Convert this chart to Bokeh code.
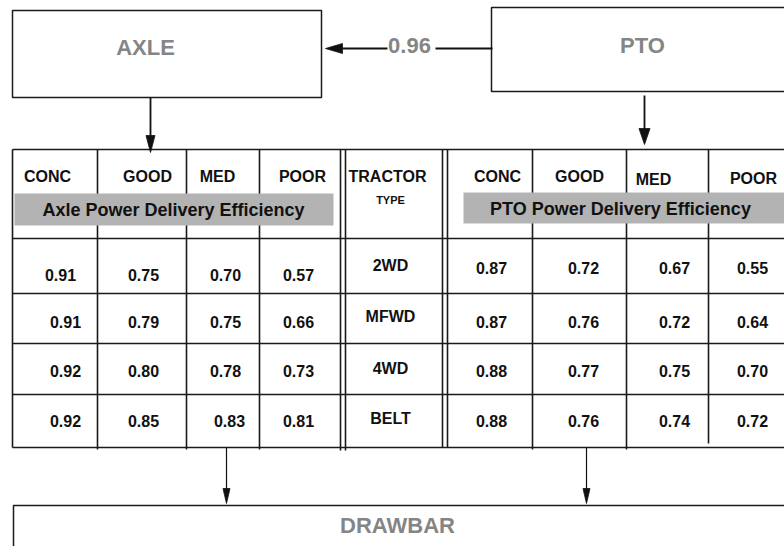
from bokeh.plotting import figure
from bokeh.models import Range1d, ColumnDataSource
from bokeh.core.properties import value
from bokeh.embed import file_html
from bokeh.resources import INLINE

# ---------------- data ----------------
soil_conditions = ["CONC", "GOOD", "MED", "POOR"]
tractor_types = ["2WD", "MFWD", "4WD", "BELT"]
axle_eff = [
    [0.91, 0.75, 0.70, 0.57],
    [0.91, 0.79, 0.75, 0.66],
    [0.92, 0.80, 0.78, 0.73],
    [0.92, 0.85, 0.83, 0.81],
]
pto_eff = [
    [0.87, 0.72, 0.67, 0.55],
    [0.87, 0.76, 0.72, 0.64],
    [0.88, 0.77, 0.75, 0.70],
    [0.88, 0.76, 0.74, 0.72],
]
pto_to_axle = 0.96
axle_title = "Axle Power Delivery Efficiency"
pto_title = "PTO Power Delivery Efficiency"

# ---------------- layout (reference pixel coordinates) ----------------
FONT = value("Liberation Sans")
GRAY_TXT = "#858585"
BAND = "#b3b3b3"
LINE = "#1a1a1a"

W, H = 784, 546
p = figure(width=W, height=H, x_range=Range1d(0, W), y_range=Range1d(H, 0),
           output_backend="svg", toolbar_location=None, min_border=0,
           x_axis_location=None, y_axis_location=None)
p.xgrid.grid_line_color = None
p.ygrid.grid_line_color = None
p.outline_line_color = None
p.background_fill_color = "white"
p.border_fill_color = "white"

# boxes
box_l = [12, 491, 13]
box_r = [321, 800, 800]
box_t = [10, 7, 505]
box_b = [97, 91, 560]
p.quad(left=box_l, right=box_r, top=box_t, bottom=box_b,
       fill_color=None, line_color=LINE, line_width=1.5)

# table grid
TOP, HDR, BOT = 149, 238, 447
row_lines = [HDR, 293, 343, 394]
vlines = [12, 97, 186, 259, 340, 345, 442, 447, 532, 626, 708]
vbot = [BOT, BOT + 2, BOT + 2, BOT + 2, BOT + 3, BOT + 3, BOT, BOT, BOT + 2, BOT + 2, BOT - 4]
p.segment(x0=[12] * 5, x1=[800] * 5, y0=[TOP] + row_lines, y1=[TOP] + row_lines,
          line_color=LINE, line_width=1.6)
p.segment(x0=[12], x1=[800], y0=[BOT], y1=[BOT], line_color=LINE, line_width=1.6)
p.segment(x0=vlines, x1=vlines, y0=[TOP] * len(vlines), y1=vbot,
          line_color=LINE, line_width=1.6)

# grey bands
p.quad(left=[14, 463], right=[333, 800], top=[193, 192], bottom=[225, 223],
       fill_color=BAND, line_color=None)
p.text(x=[173, 620], y=[209, 208], text=[axle_title, pto_title], text_font=FONT,
       text_font_style="bold", text_font_size="18px", text_color="#111111",
       text_align="center", text_baseline="middle")

# arrows: lines
p.segment(x0=[150, 644, 387, 435], x1=[150, 644, 336, 492], y0=[97, 95, 48, 48], y1=[140, 132, 48, 48],
          line_color="#111111", line_width=1.8)
p.segment(x0=[226, 586], x1=[226, 586], y0=[447, 447], y1=[492, 492],
          line_color="#111111", line_width=1.2)
# arrow heads
heads_x = [[145.5, 154.5, 150], [638.5, 649.5, 644], [342, 342, 325],
           [222.5, 229.5, 226], [582.5, 589.5, 586]]
heads_y = [[135, 135, 152], [128, 128, 144], [43, 53, 48],
           [488, 488, 503], [488, 488, 503]]
p.patches(xs=heads_x, ys=heads_y, fill_color="#111111", line_color="#111111", line_width=0.8)

# big gray labels
p.text(x=[145, 642, 397, 409], y=[47, 45, 525, 45], text=["AXLE", "PTO", "DRAWBAR", f"{pto_to_axle:.2f}"],
       text_font=FONT, text_font_style="bold", text_font_size="22px", text_color=GRAY_TXT,
       text_align="center", text_baseline="middle")

# headers
axle_hx = [47, 147, 217, 302]
pto_hx = [497, 579, 653, 753]
pto_hy = [176, 176, 179, 178]
p.text(x=axle_hx + pto_hx + [387], y=[176] * 4 + pto_hy + [176],
       text=soil_conditions + soil_conditions + ["TRACTOR"],
       text_font=FONT, text_font_style="bold", text_font_size="16px", text_color="#111111",
       text_align="center", text_baseline="middle")
p.text(x=[390], y=[199], text=["TYPE"], text_font=FONT, text_font_style="bold",
       text_font_size="11px", text_color="#111111", text_align="center", text_baseline="middle")

# values
axle_x = [[60, 143, 225, 298], [65, 143, 225, 298], [65, 143, 225, 298], [65, 143, 229, 298]]
axle_y = [274, 321, 370, 420]
pto_x = [491, 583, 674, 752]
pto_y = [267, 321, 370, 420]
type_y = [265, 316, 368, 418]

xs, ys, ts = [], [], []
for r in range(4):
    for c in range(4):
        xs.append(axle_x[r][c]); ys.append(axle_y[r]); ts.append(f"{axle_eff[r][c]:.2f}")
        xs.append(pto_x[c]); ys.append(pto_y[r]); ts.append(f"{pto_eff[r][c]:.2f}")
    xs.append(390); ys.append(type_y[r]); ts.append(tractor_types[r])
src = ColumnDataSource(dict(x=xs, y=ys, t=ts))
p.text(x="x", y="y", text="t", source=src, text_font=FONT, text_font_style="bold",
       text_font_size="16px", text_color="#111111", text_align="center", text_baseline="middle")

open("out.html", "w").write(file_html(p, INLINE))
